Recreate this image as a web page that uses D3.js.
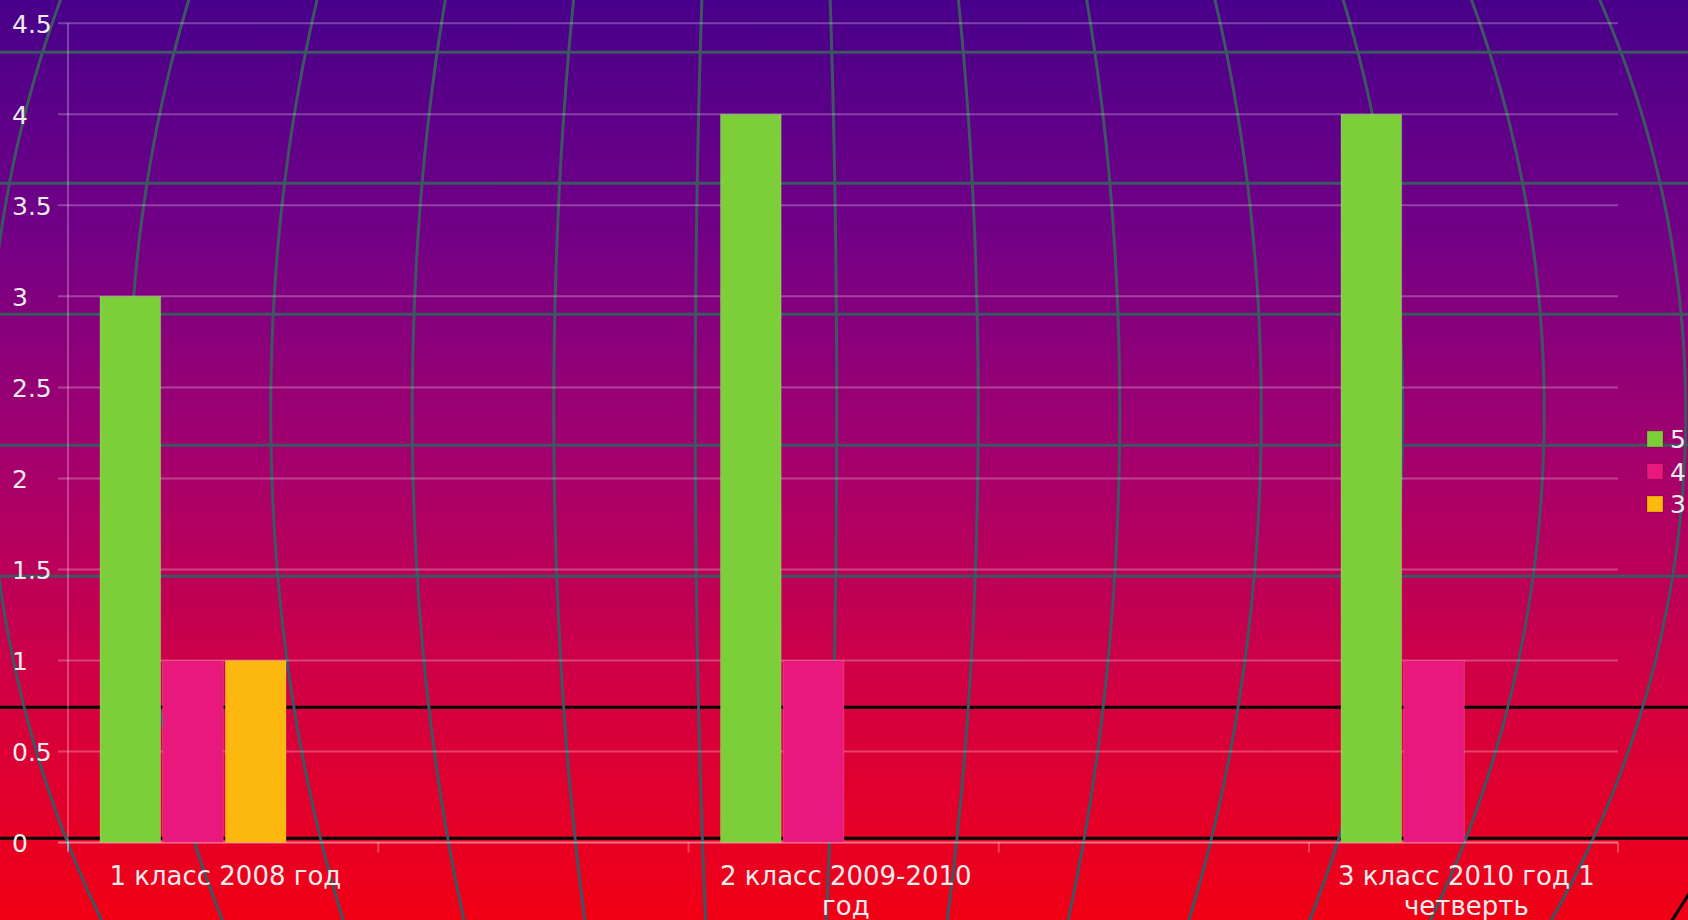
<!DOCTYPE html>
<html>
<head>
<meta charset="utf-8">
<script src="https://cdn.jsdelivr.net/npm/d3@7"></script>
<style>
  html, body { margin: 0; padding: 0; overflow: hidden; background: #4a0088; }
  svg { display: block; }
  text { font-family: "DejaVu Sans", sans-serif; fill: #ececec; }
</style>
</head>
<body>
<div id="plot"></div>
<script>
// ---- data ----
var categories = ["1 класс 2008 год", "2 класс 2009-2010 год", "3 класс 2010 год 1 четверть"];
var categoryLines = [["1 класс 2008 год"], ["2 класс 2009-2010", "год"], ["3 класс 2010 год 1", "четверть"]];
var seriesNames = ["5", "4", "3"];
var values5 = [3, 4, 4];
var values4 = [1, 1, 1];
var values3 = [1, 0, 0];
var seriesColors = ["#7dcf3a", "#e8187c", "#fdb80f"];
var yTicks = [0, 0.5, 1, 1.5, 2, 2.5, 3, 3.5, 4, 4.5];

var W = 1688, H = 920;

var svg = d3.select("#plot").append("svg")
    .attr("width", W)
    .attr("height", H);

/*------------------------------------------*/
/*            Background                    */
/*------------------------------------------*/
var defs = svg.append("defs");
var grad = defs.append("linearGradient")
    .attr("id", "bg")
    .attr("x1", 0).attr("y1", 0).attr("x2", 0).attr("y2", 1);
[["0%", "#48008a"], ["25%", "#720086"], ["50%", "#a5006d"], ["75%", "#d20042"], ["100%", "#f20014"]]
  .forEach(function(s) { grad.append("stop").attr("offset", s[0]).attr("stop-color", s[1]); });

svg.append("rect").attr("width", W).attr("height", H).attr("fill", "url(#bg)");

// globe-like grid behind the chart
var globe = { cx: 766, cy: 412, r: 976, step: 141.5 };
var globeColor = "#3c5762";
var parallels = d3.range(7).map(function(i) { return 52.3 + 131 * i; });
var meridians = d3.range(-7.5, 8, 1);

var bgLines = svg.append("g");

bgLines.selectAll(".parallel")
  .data(parallels)
  .enter().append("line")
    .attr("x1", 0).attr("x2", W)
    .attr("y1", function(d) { return d; })
    .attr("y2", function(d) { return d; })
    .style("stroke", function(d, i) { return i >= 5 ? "#000" : globeColor; })
    .style("stroke-width", 3);

var meridianLine = d3.line()
    .x(function(p) { return p[0]; })
    .y(function(p) { return p[1]; })
    .curve(d3.curveBasis);

bgLines.selectAll(".meridian")
  .data(meridians)
  .enter().append("path")
    .attr("d", function(m) {
      var pts = d3.range(-10, H + 20, 10).map(function(y) {
        var t = (y - globe.cy) / globe.r;
        return [globe.cx + m * globe.step * Math.sqrt(1 - t * t), y];
      });
      return meridianLine(pts);
    })
    .style("fill", "none")
    .style("stroke", function(m) { return m > 7 ? "#000" : globeColor; })
    .style("stroke-width", 3);

/*------------------------------------------*/
/*            Scales                        */
/*------------------------------------------*/
var plot = { left: 68, right: 1618, top: 23.3, bottom: 842.5, offset: 32, catStep: 620.5 };

var y = d3.scaleLinear().domain([0, 4.5]).range([plot.bottom, plot.top]);

var x0 = d3.scaleBand()
    .domain(categories)
    .range([plot.left + plot.offset, plot.left + plot.offset + plot.catStep * categories.length])
    .padding(0);

var x1 = d3.scaleBand()
    .domain(seriesNames)
    .range([0, 186])
    .paddingInner(0.032);

var table = categories.map(function(c, i) {
  return { cat: c, lines: categoryLines[i], vals: [values5[i], values4[i], values3[i]] };
});

/*------------------------------------------*/
/*            Grid + axes                   */
/*------------------------------------------*/
var gridColor = "rgba(255,255,255,0.26)";

svg.append("g").selectAll("line")
  .data(yTicks)
  .enter().append("line")
    .attr("x1", plot.left - 10).attr("x2", plot.right)
    .attr("y1", function(d) { return y(d); })
    .attr("y2", function(d) { return y(d); })
    .style("stroke", gridColor)
    .style("stroke-width", 2);

svg.append("line")
    .attr("x1", plot.left).attr("x2", plot.left)
    .attr("y1", plot.top).attr("y2", plot.bottom + 8)
    .style("stroke", gridColor)
    .style("stroke-width", 2);

svg.append("line")
    .attr("x1", plot.left - 10).attr("x2", plot.right)
    .attr("y1", plot.bottom).attr("y2", plot.bottom)
    .style("stroke", gridColor)
    .style("stroke-width", 2);

var xTickPos = [];
categories.forEach(function(c) {
  var s = x0(c) - plot.offset;
  xTickPos.push(s, s + x0.step() / 2);
});
xTickPos.push(plot.right);
xTickPos = xTickPos.filter(function(v) { return v <= plot.right + 1; });

svg.append("g").selectAll("line")
  .data(xTickPos)
  .enter().append("line")
    .attr("x1", function(d) { return d; }).attr("x2", function(d) { return d; })
    .attr("y1", plot.bottom).attr("y2", plot.bottom + 10)
    .style("stroke", gridColor)
    .style("stroke-width", 2);

svg.append("g").selectAll("text")
  .data(yTicks)
  .enter().append("text")
    .attr("x", 12)
    .attr("y", function(d) { return y(d); })
    .attr("dy", "0.37em")
    .style("font-size", "25px")
    .text(function(d) { return String(d); });

/*------------------------------------------*/
/*            Bars                          */
/*------------------------------------------*/
var groups = svg.append("g").selectAll("g")
  .data(table)
  .enter().append("g")
    .attr("transform", function(d) { return "translate(" + x0(d.cat) + ",0)"; });

groups.selectAll("rect")
  .data(function(d) {
    return d.vals.map(function(v, i) { return { key: seriesNames[i], value: v, color: seriesColors[i] }; })
      .filter(function(b) { return b.value > 0; });
  })
  .enter().append("rect")
    .attr("x", function(b) { return x1(b.key); })
    .attr("width", x1.bandwidth())
    .attr("y", function(b) { return y(b.value); })
    .attr("height", function(b) { return y(0) - y(b.value); })
    .style("fill", function(b) { return b.color; })
    .style("stroke", "rgba(255,255,255,0.18)")
    .style("stroke-width", 1);

// category labels
groups.append("text")
    .attr("text-anchor", "middle")
    .attr("transform", "translate(" + (x1.step() * 2) + "," + (plot.bottom + 42) + ")")
    .style("font-size", "26px")
  .selectAll("tspan")
  .data(function(d) { return d.lines; })
  .enter().append("tspan")
    .attr("x", 0)
    .attr("dy", function(d, i) { return i === 0 ? 0 : 30; })
    .text(function(d) { return d; });

/*------------------------------------------*/
/*            Legend                        */
/*------------------------------------------*/
var legend = svg.append("g").attr("transform", "translate(1647,431)");

var items = legend.selectAll("g")
  .data(seriesNames)
  .enter().append("g")
    .attr("transform", function(d, i) { return "translate(0," + (i * 32.5) + ")"; });

items.append("rect")
    .attr("width", 16).attr("height", 16)
    .style("fill", function(d, i) { return seriesColors[i]; })
    .style("stroke", "rgba(0,0,0,0.2)")
    .style("stroke-width", 1);

items.append("text")
    .attr("x", 23)
    .attr("y", 8)
    .attr("dy", "0.37em")
    .style("font-size", "25px")
    .text(function(d) { return d; });
</script>
</body>
</html>
